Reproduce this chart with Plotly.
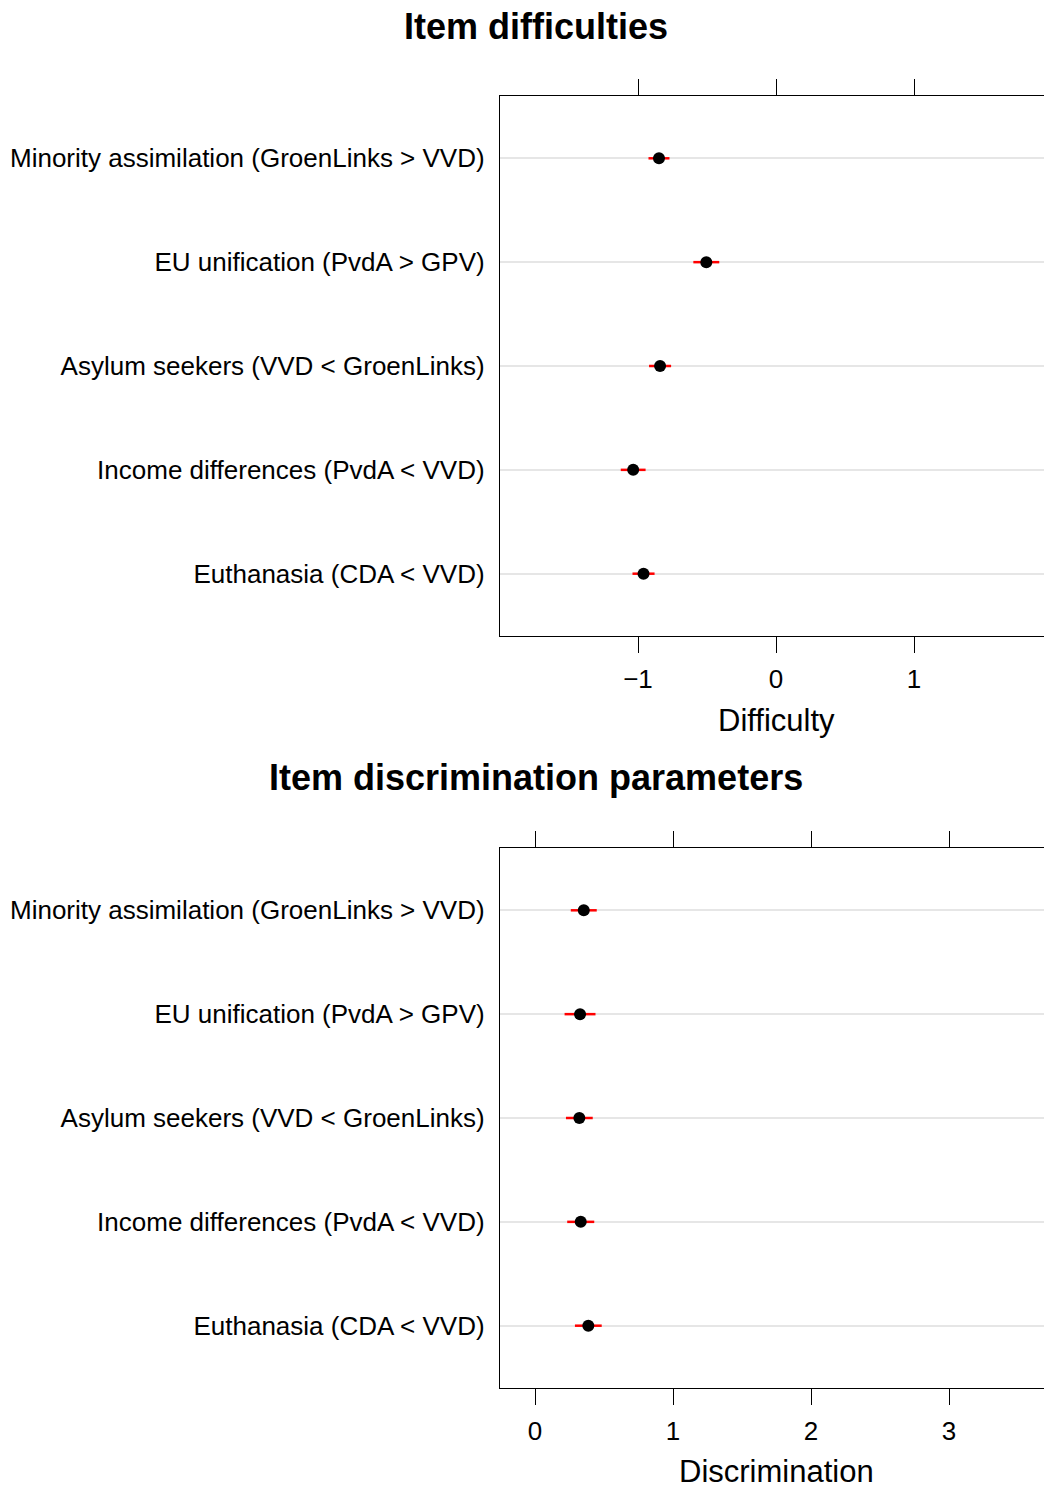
import plotly.graph_objects as go

items = [
    "Euthanasia (CDA < VVD)",
    "Income differences (PvdA < VVD)",
    "Asylum seekers (VVD < GroenLinks)",
    "EU unification (PvdA > GPV)",
    "Minority assimilation (GroenLinks > VVD)",
]
difficulty = [-0.96, -1.035, -0.84, -0.505, -0.848]
difficulty_err = [0.08, 0.09, 0.08, 0.094, 0.076]
discrimination = [0.386, 0.331, 0.321, 0.326, 0.353]
discrimination_err = [0.097, 0.098, 0.097, 0.112, 0.094]

diff_ticks = [-1, 0, 1]
disc_ticks = [0, 1, 2, 3]

FONT = "Liberation Sans, Arial, sans-serif"
W, H = 1044, 1489

fig = go.Figure()

fig.add_trace(go.Scatter(
    x=difficulty, y=items, mode="markers",
    marker=dict(color="black", size=12),
    error_x=dict(type="data", array=difficulty_err, color="red", thickness=2.5, width=0),
    xaxis="x", yaxis="y", showlegend=False,
))
fig.add_trace(go.Scatter(
    x=discrimination, y=items, mode="markers",
    marker=dict(color="black", size=12),
    error_x=dict(type="data", array=discrimination_err, color="red", thickness=2.5, width=0),
    xaxis="x2", yaxis="y2", showlegend=False,
))

left = 500 / W
top1 = 1 - 96 / H
bot1 = 1 - 636 / H
top2 = 1 - 848 / H
bot2 = 1 - 1388 / H

xcommon = dict(
    showline=True, linecolor="black", linewidth=1.3, mirror="ticks",
    ticks="outside", ticklen=16, tickwidth=1.3, tickcolor="black",
    showgrid=False, zeroline=False, ticklabelstandoff=4,
    tickfont=dict(family=FONT, size=26, color="black"),
)
ycommon = dict(
    type="category", categoryorder="array", categoryarray=items,
    range=[-0.6, 4.6],
    showline=True, linecolor="black", linewidth=1.3, mirror=False,
    ticks="", showgrid=True, gridcolor="#e6e6e6", gridwidth=2,
    zeroline=False, ticklabelstandoff=9,
    tickfont=dict(family=FONT, size=26, color="black"),
)

fig.update_layout(
    width=W, height=H,
    margin=dict(l=0, r=0, t=0, b=0),
    paper_bgcolor="white", plot_bgcolor="white",
    xaxis=dict(domain=[left, 1], anchor="y", range=[-2.0, 1.942],
               tickvals=diff_ticks, ticktext=[f"{v}".replace("-", "\u2212") for v in diff_ticks],
               **xcommon),
    yaxis=dict(domain=[bot1, top1], anchor="x", **ycommon),
    xaxis2=dict(domain=[left, 1], anchor="y2", range=[-0.254, 3.688],
                tickvals=disc_ticks, ticktext=[str(v) for v in disc_ticks],
                **xcommon),
    yaxis2=dict(domain=[bot2, top2], anchor="x2", **ycommon),
    annotations=[
        dict(text="<b>Item difficulties</b>", x=536 / W, y=1 - 27 / H, xref="paper", yref="paper",
             showarrow=False, font=dict(family=FONT, size=36, color="black"), xanchor="center", yanchor="middle"),
        dict(text="<b>Item discrimination parameters</b>", x=536 / W, y=1 - 777 / H, xref="paper", yref="paper",
             showarrow=False, font=dict(family=FONT, size=36, color="black"), xanchor="center", yanchor="middle"),
        dict(text="Difficulty", x=776 / W, y=1 - 720 / H, xref="paper", yref="paper",
             showarrow=False, font=dict(family=FONT, size=31, color="black"), xanchor="center", yanchor="middle"),
        dict(text="Discrimination", x=776 / W, y=1 - 1471 / H, xref="paper", yref="paper",
             showarrow=False, font=dict(family=FONT, size=31, color="black"), xanchor="center", yanchor="middle"),
    ],
)

fig.write_html("out.html")
